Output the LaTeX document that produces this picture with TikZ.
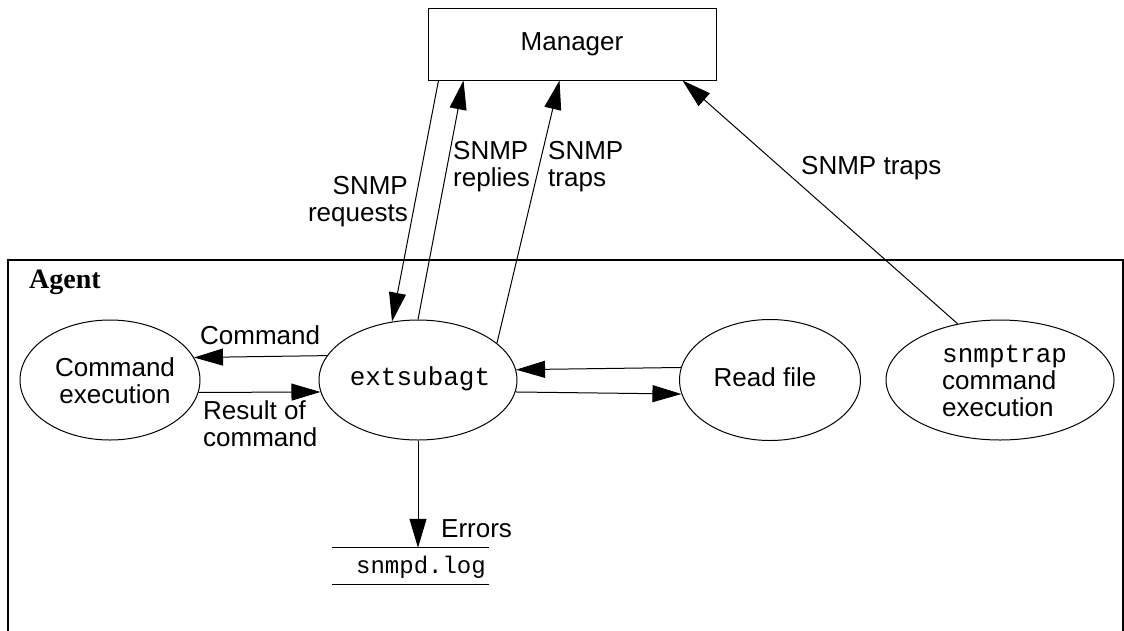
\documentclass[tikz,border=0pt]{standalone}
\usepackage{fontspec}
\setmainfont{Liberation Sans}
\newfontfamily\monofam{Liberation Mono}
\newfontfamily\seriffam{Liberation Serif}
\usetikzlibrary{shapes.geometric,arrows.meta}
\begin{document}
\begin{tikzpicture}[x=1pt,y=-1pt,
  every node/.style={font=\fontsize{26}{27}\selectfont},
  ell/.style={draw,ellipse,line width=1pt,inner sep=0pt},
  lbl/.style={inner sep=0pt,align=left},
  arr/.style={line width=1pt,-{Triangle[length=29pt,width=17pt]}},
  ln/.style={line width=1pt}]
\useasboundingbox (0,0) rectangle (1124,630);
% Manager
\node[draw,line width=1pt,minimum width=288pt,minimum height=72pt,inner sep=0pt] (mgr) at (572,44) {Manager};
% Agent frame
\coordinate (abl) at (8,632);
\coordinate (atl) at (8,260);
\coordinate (atr) at (1123,260);
\coordinate (abr) at (1123,632);
\draw[line width=1.2pt] (abl) -- (atl) -- (atr) -- (abr);
\node[lbl,anchor=west,font=\fontsize{28}{30}\seriffam\bfseries] (agent) at (29,282) {Agent};
% Ellipses
\node[ell,minimum width=180pt,minimum height=120pt] (cmd) at (110,380) {};
\node[lbl,align=center] (cmdt) at (115,381) {Command\\execution};
\node[ell,minimum width=198pt,minimum height=120pt] (ext) at (418,380) {};
\node[lbl,font=\fontsize{26}{27}\monofam] (extt) at (420,379) {extsubagt};
\node[ell,minimum width=181pt,minimum height=121pt] (rf) at (770,380) {};
\node[lbl] (rft) at (765,377) {Read file};
\node[ell,minimum width=228pt,minimum height=120pt] (st) at (1000,380) {};
\node[lbl,anchor=west] (stt) at (942,381) {{\monofam snmptrap}\\command\\execution};
% snmpd.log
\node[minimum width=157pt,minimum height=36pt,inner sep=0pt] (log) at (410.5,566) {};
\draw[ln] (log.north west) -- (log.north east);
\draw[ln] (log.south west) -- (log.south east);
\node[lbl,font=\fontsize{24}{26}\monofam] (logt) at (421,567) {snmpd.log};
% arrows between ellipses
\draw[arr] (ext.165.9) -- (cmd.15.5);
\draw[arr] (cmd.-8.4) -- (ext.187.7);
\draw[arr] (rf.172.9) -- (ext.6.5);
\draw[arr] (ext.-7.7) -- (rf.-171.6);
\draw[arr] (ext.south) -- (ext.south |- log.north);
% arrows to/from manager
\draw[arr] ([xshift=11pt]mgr.south west) -- (ext.114.2);
\draw[arr] (ext.90) -- ([xshift=36pt]mgr.south west);
\draw[arr] (ext.25) -- ([xshift=132pt]mgr.south west);
\draw[arr] (st.127.7) -- ([xshift=-34pt]mgr.south east);
% labels
\node[lbl,anchor=east,align=right] (lreq) at (408,202) {SNMP\\requests};
\node[lbl,anchor=west] (lrep) at (453,167) {SNMP\\replies};
\node[lbl,anchor=west] (ltr) at (548,167) {SNMP\\traps};
\node[lbl,anchor=west] (ltr2) at (801,168) {SNMP traps};
\node[lbl,anchor=west] (lcmd) at (200,335) {Command};
\node[lbl,anchor=west] (lres) at (203,424) {Result of\\command};
\node[lbl,anchor=west] (lerr) at (441,529) {Errors};
\end{tikzpicture}
\end{document}
